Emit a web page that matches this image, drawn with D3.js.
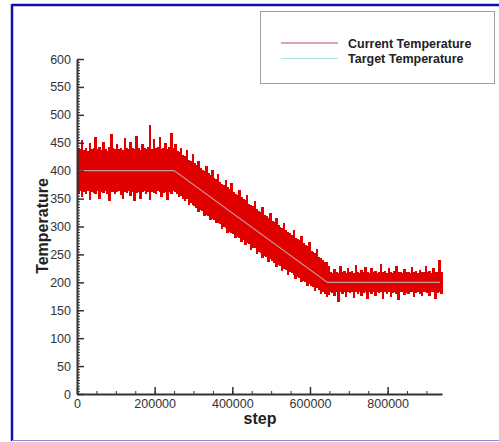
<!DOCTYPE html>
<html lang="en">
	<head>
		<meta charset="utf-8">
		<title>Temperature vs step</title>
		<script type="text/javascript" src="https://cdn.jsdelivr.net/npm/d3@7"></script>
		<style type="text/css">
			body{margin:0;background-color:#fff;}
			svg{display:block;}
			.axis text{font-family:"Liberation Sans",Arial,sans-serif;font-size:12.5px;fill:#333;}
			.axis path, .axis line{stroke:#333;}
			.lbl{font-family:"Liberation Sans",Arial,sans-serif;font-weight:bold;fill:#222;}
		</style>
	</head>
	<body>
		<script type="text/javascript">

var w = 499;
var h = 442;

// target temperature schedule (corner points)
var targetSteps = [0, 250000, 645000, 935000];
var targetValues = [400, 400, 200, 200];

// current temperature, read per 5000-step bin as max / min of the noisy trace
var binSize = 5000;
var currentMax = [
	441, 438, 455, 437, 440, 436, 449, 439, 441, 460,
	438, 442, 437, 451, 439, 436, 443, 466, 440, 438,
	447, 439, 441, 437, 458, 440, 438, 452, 441, 439,
	462, 440, 437, 448, 441, 439, 442, 481, 439, 456,
	440, 443, 461, 438, 441, 450, 439, 442, 468, 440,
	448, 436, 433, 441, 428, 426, 437, 420, 418, 429,
	413, 410, 418, 405, 402, 400, 409, 395, 392, 401,
	387, 385, 394, 380, 377, 375, 384, 370, 367, 378,
	362, 359, 357, 366, 352, 349, 347, 357, 341, 339,
	336, 345, 331, 328, 326, 335, 321, 318, 316, 324,
	310, 308, 316, 303, 300, 298, 307, 293, 290, 288,
	284, 294, 280, 277, 275, 283, 270, 267, 265, 273,
	257, 255, 252, 260, 246, 243, 240, 237, 236, 229,
	219, 217, 224, 218, 216, 229, 218, 220, 217, 226,
	218, 221, 217, 231, 219, 217, 222, 218, 228, 219,
	217, 225, 218, 220, 217, 219, 233, 218, 221, 217,
	226, 218, 217, 221, 230, 218, 219, 217, 224, 218,
	219, 217, 228, 218, 220, 217, 222, 219, 218, 229,
	218, 221, 217, 226, 219, 218, 240, 219
];
var currentMin = [
	360, 363, 352, 361, 359, 364, 348, 362, 360, 358,
	363, 350, 361, 360, 364, 358, 346, 361, 362, 359,
	361, 364, 357, 349, 362, 360, 363, 355, 361, 345,
	360, 362, 350, 361, 364, 359, 361, 347, 362, 360,
	358, 363, 361, 352, 360, 362, 348, 361, 359, 363,
	362, 358, 352, 355, 350, 346, 349, 339, 342, 338,
	336, 334, 326, 329, 327, 318, 321, 319, 311, 314,
	312, 306, 307, 304, 296, 299, 297, 288, 291, 289,
	287, 279, 282, 280, 272, 275, 266, 271, 268, 258,
	262, 261, 251, 255, 252, 244, 248, 246, 236, 241,
	238, 235, 227, 231, 229, 221, 224, 222, 213, 218,
	216, 213, 206, 210, 207, 200, 203, 201, 193, 197,
	194, 191, 185, 189, 186, 179, 183, 180, 174, 178,
	183, 181, 176, 182, 164, 183, 180, 182, 174, 183,
	181, 183, 172, 182, 180, 183, 176, 181, 183, 170,
	182, 180, 183, 175, 182, 181, 183, 171, 182, 180,
	183, 174, 181, 182, 180, 169, 182, 183, 177, 181,
	180, 183, 182, 173, 181, 183, 180, 176, 182, 183,
	181, 175, 182, 183, 170, 181, 183, 180
];

var xTicks = [0, 200000, 400000, 600000, 800000];
var yTicks = [0, 50, 100, 150, 200, 250, 300, 350, 400, 450, 500, 550, 600];
var legendNames = ["Current Temperature", "Target Temperature"];
var legendColors = ["#b85060", "#a8e4e4"];

var svg = d3.select("body")
			.append("svg")
			.attr("width", w)
			.attr("height", h);

// frame
svg.append("line").attr("x1", 12).attr("y1", 5).attr("x2", w).attr("y2", 5)
	.style("stroke", "#1010a8").style("stroke-width", 2.5);
svg.append("line").attr("x1", 12).attr("y1", 4).attr("x2", 12).attr("y2", 441)
	.style("stroke", "#1010a8").style("stroke-width", 2.5);
svg.append("line").attr("x1", 12).attr("y1", 440.5).attr("x2", w).attr("y2", 440.5)
	.style("stroke", "#8c8cd0").style("stroke-width", 1);

var xScale = d3.scaleLinear().domain([0, 940000]).range([77, 442]);
var yScale = d3.scaleLinear().domain([0, 600]).range([394, 59]);

var bins = currentMax.map(function(d, i) {
	return {step: i * binSize, hi: d, lo: currentMin[i]};
});

svg.append("g")
	.selectAll("rect")
	.data(bins)
	.enter()
	.append("rect")
	.attr("x", function(d) { return xScale(d.step); })
	.attr("width", function(d) { return xScale(d.step + binSize) - xScale(d.step) + 0.6; })
	.attr("y", function(d) { return yScale(d.hi); })
	.attr("height", function(d) { return yScale(d.lo) - yScale(d.hi); })
	.style("fill", "#e00000")
	.style("shape-rendering", "crispEdges");

var line = d3.line()
	.x(function(d) { return xScale(d[0]); })
	.y(function(d) { return yScale(d[1]); });

svg.append("path")
	.datum(targetSteps.map(function(s, i) { return [s, targetValues[i]]; }))
	.attr("d", line)
	.style("fill", "none")
	.style("stroke", "#b8dede")
	.style("stroke-opacity", 0.7)
	.style("stroke-width", 1.1);

// minor ticks
svg.append("g")
	.attr("class", "axis")
	.attr("transform", "translate(0,394)")
	.call(d3.axisBottom(xScale).tickValues(d3.range(0, 940001, 50000)).tickSize(-3).tickSizeOuter(0).tickFormat(""))
	.select(".domain").remove();
svg.append("g")
	.attr("class", "axis")
	.attr("transform", "translate(77,0)")
	.call(d3.axisLeft(yScale).tickValues(d3.range(0, 601, 5)).tickSize(-3).tickSizeOuter(0).tickFormat(""))
	.select(".domain").remove();

// major ticks
var xAxis = svg.append("g")
	.attr("class", "axis")
	.attr("transform", "translate(0,394)")
	.call(d3.axisBottom(xScale).tickValues(xTicks).tickSize(-7).tickSizeOuter(0).tickPadding(5).tickFormat(d3.format("d")));
xAxis.select(".domain").style("stroke-width", 2);
xAxis.selectAll(".tick line").style("stroke-width", 1.5);

var yAxis = svg.append("g")
	.attr("class", "axis")
	.attr("transform", "translate(77,0)")
	.call(d3.axisLeft(yScale).tickValues(yTicks).tickSize(-7).tickSizeOuter(0).tickPadding(6));
yAxis.select(".domain").style("stroke-width", 2);
yAxis.selectAll(".tick line").style("stroke-width", 1.5);

svg.append("text")
	.attr("class", "lbl")
	.attr("x", 260)
	.attr("y", 424)
	.attr("text-anchor", "middle")
	.style("font-size", "16px")
	.text("step");

svg.append("text")
	.attr("class", "lbl")
	.attr("transform", "translate(48,226) rotate(-90)")
	.attr("text-anchor", "middle")
	.style("font-size", "16px")
	.text("Temperature");

// legend
svg.append("rect")
	.attr("x", 260.5).attr("y", 11.5)
	.attr("width", 234).attr("height", 72)
	.style("fill", "#fff")
	.style("stroke", "#a0a0a0");

var leg = svg.selectAll(".leg")
	.data(legendNames)
	.enter()
	.append("g")
	.attr("class", "leg")
	.attr("transform", function(d, i) { return "translate(0," + (43 + i * 15.5) + ")"; });

leg.append("line")
	.attr("x1", 281).attr("x2", 338)
	.style("stroke", function(d, i) { return legendColors[i]; })
	.style("stroke-width", 1.2);

leg.append("text")
	.attr("class", "lbl")
	.attr("x", 348)
	.attr("y", 4.5)
	.style("font-size", "12.5px")
	.text(function(d) { return d; });

		</script>
	</body>
</html>
